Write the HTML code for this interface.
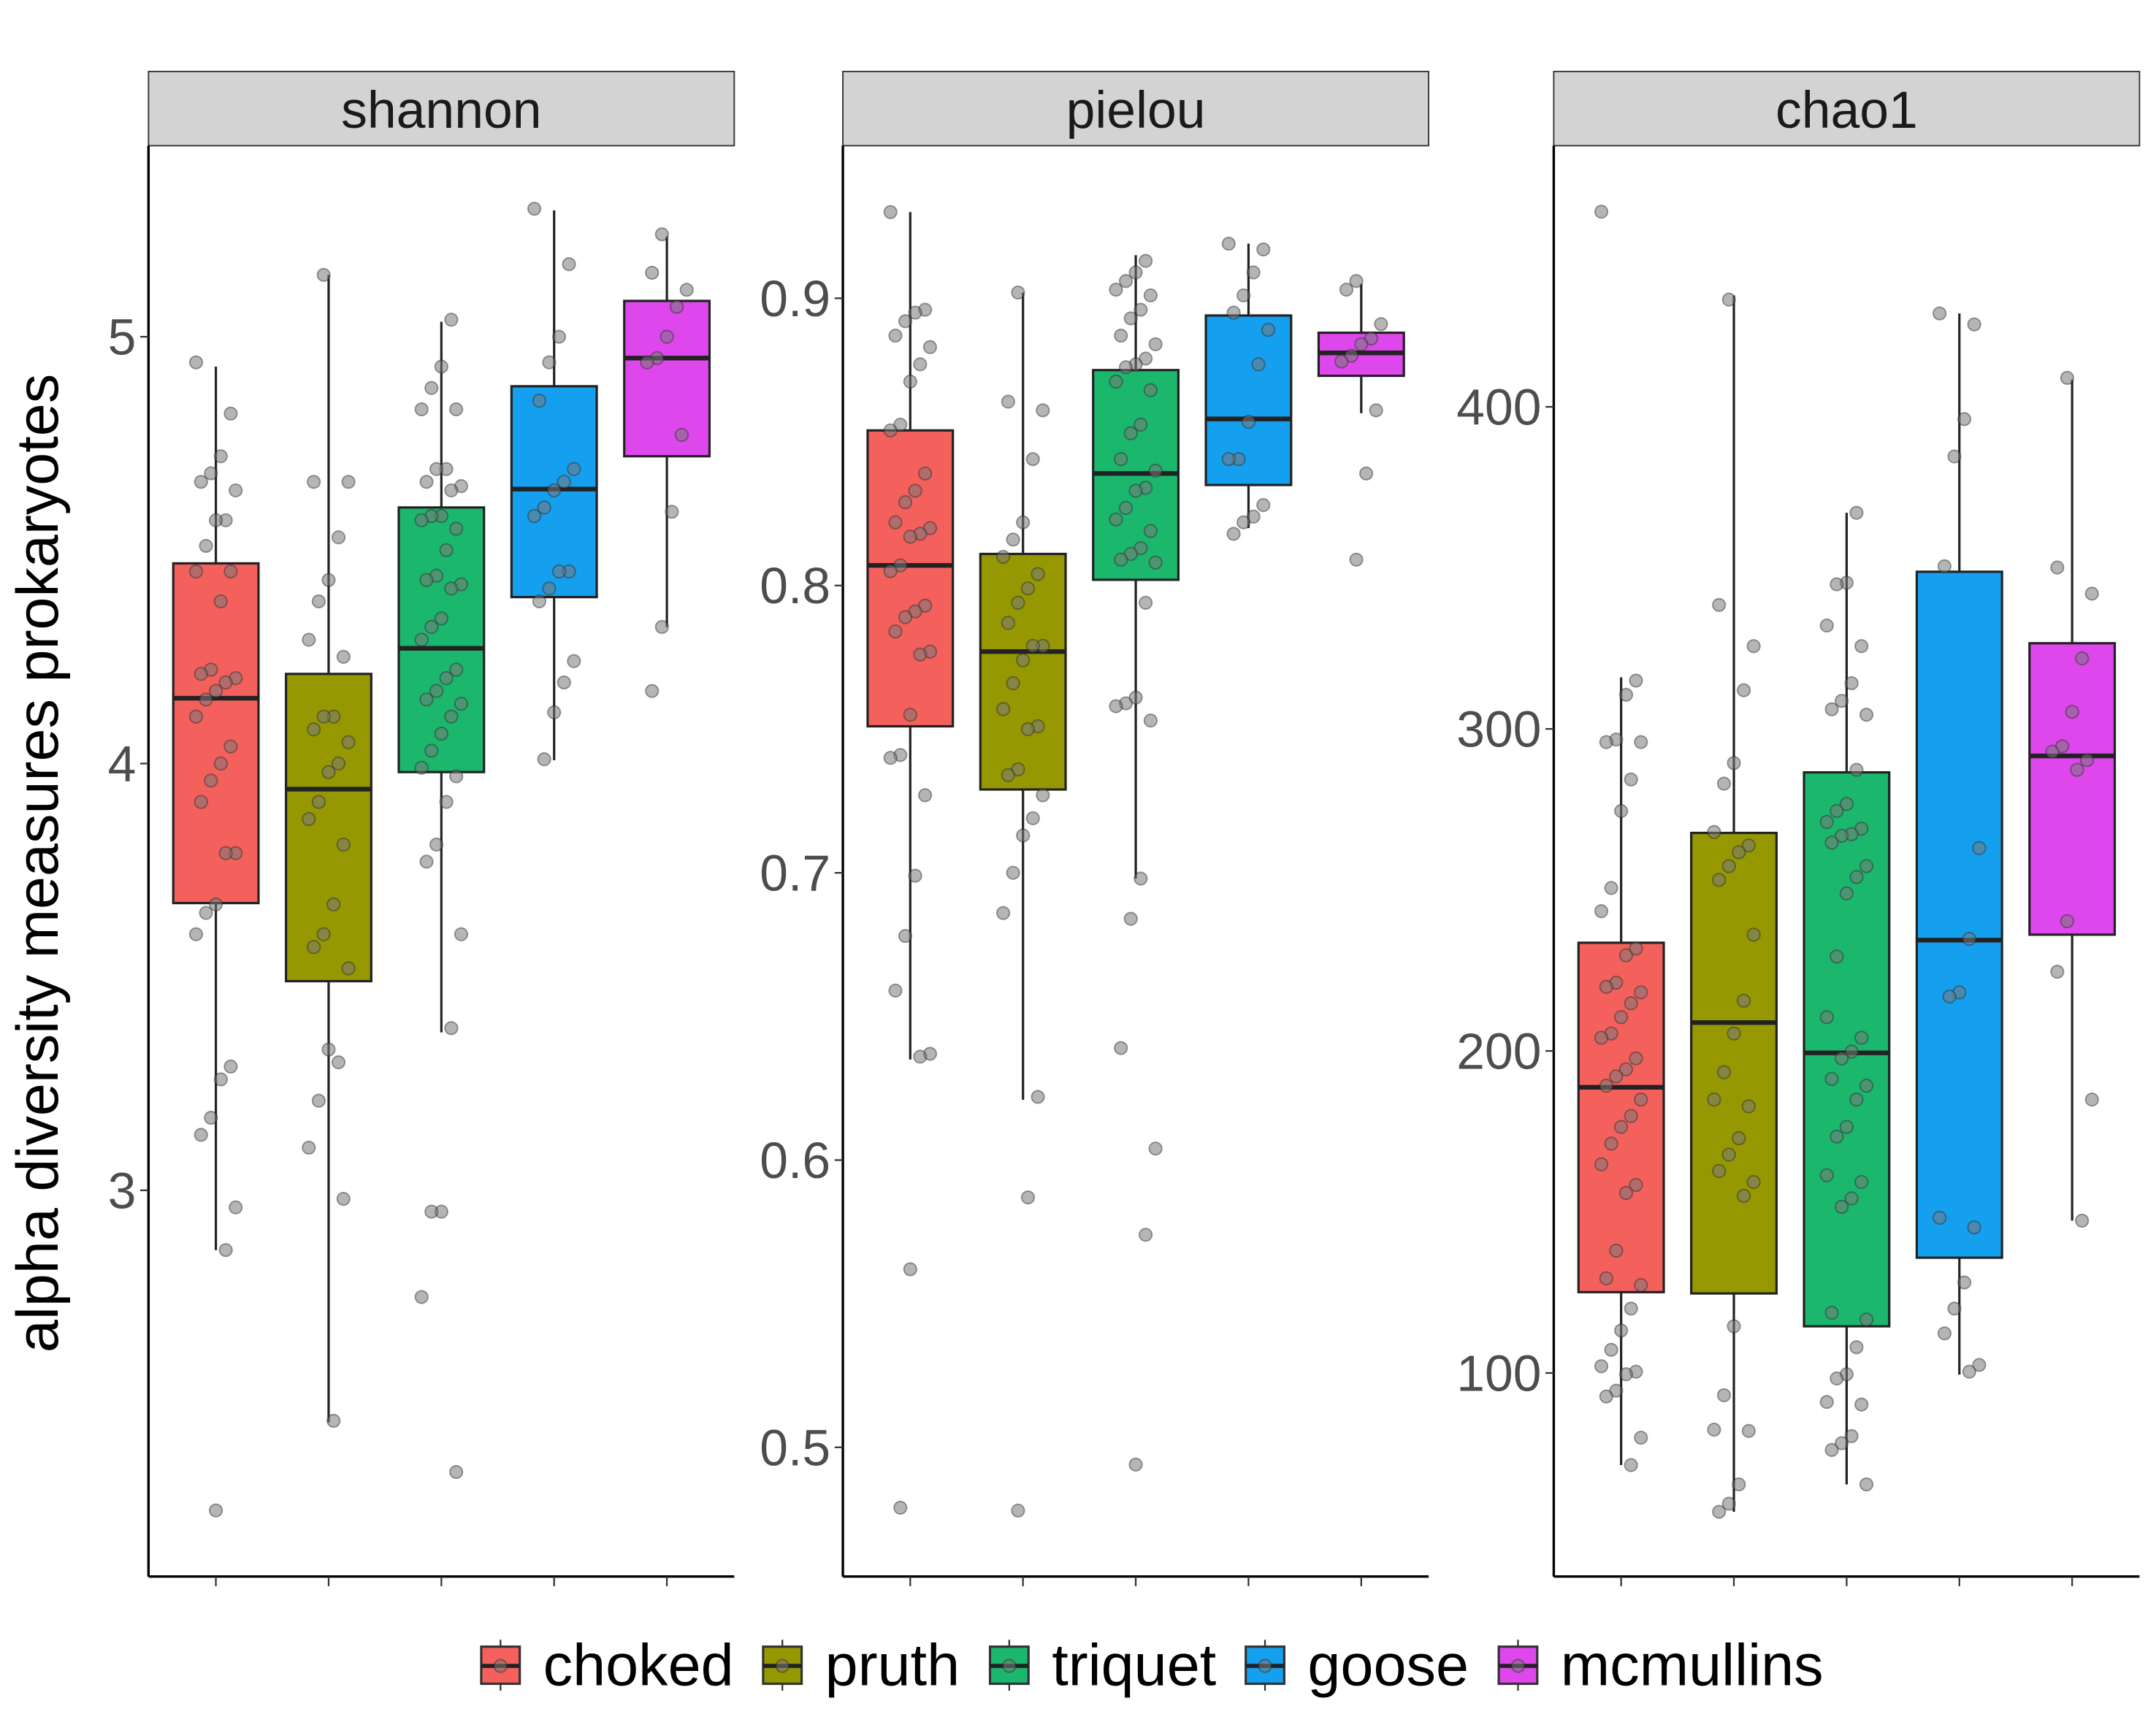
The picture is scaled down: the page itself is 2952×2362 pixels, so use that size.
<!DOCTYPE html>
<html><head><meta charset="utf-8"><style>
html,body{margin:0;padding:0;background:#fff;}
svg{display:block;font-family:"Liberation Sans",sans-serif;}
</style></head><body>
<svg id="chart" xmlns="http://www.w3.org/2000/svg" width="2952" height="2362" viewBox="0 0 1568 1255" preserveAspectRatio="none">
<rect width="1568" height="1255" fill="#fff"/>
<text x="0" y="0" transform="translate(42,628) rotate(-90)" text-anchor="middle" font-size="43" fill="#000">alpha diversity measures prokaryotes</text>
<g id="panels"></g>
<g id="legend"></g>
</svg>
<script>
const groups = ["choked","pruth","triquet","goose","mcmullins"];
const colors = ["#F4605B","#959800","#1AB76D","#149FEF","#DE47EC"];
const panelNames = ["shannon","pielou","chao1"];
const shannonTicks = [3,4,5];
const pielouTicks = [0.5,0.6,0.7,0.8,0.9];
const chaoTicks = [100,200,300,400];
// box stats: [lowerWhisker, q1, median, q3, upperWhisker]
const shannonBoxes = [[2.86,3.673,4.153,4.469,4.93],[2.456,3.49,3.94,4.21,5.145],[3.37,3.98,4.27,4.60,5.035],[4.008,4.39,4.643,4.884,5.296],[4.32,4.72,4.95,5.084,5.235]];
const pielouBoxes = [[0.635,0.751,0.807,0.854,0.930],[0.621,0.729,0.777,0.811,0.902],[0.698,0.802,0.839,0.875,0.915],[0.820,0.835,0.858,0.894,0.919],[0.860,0.873,0.881,0.888,0.905]];
const chaoBoxes = [[71.4,125.1,188.7,233.6,316],[56.9,124.7,208.8,267.7,434.6],[65.4,114.5,199.4,286.5,367.1],[99.5,135.8,234.4,348.8,429],[147.3,236.1,291.6,326.6,408.5]];
const shannonChoked = [4.94,4.82,4.72,4.68,4.66,4.64,4.57,4.57,4.51,4.45,4.45,4.38,4.22,4.21,4.20,4.19,4.17,4.15,4.11,4.04,4.0,3.96,3.91,3.79,3.79,3.67,3.65,3.60,3.29,3.26,3.17,3.13,2.96,2.86,2.25];
const shannonPruth = [5.145,4.66,4.66,4.53,4.43,4.38,4.29,4.25,4.11,4.11,4.08,4.05,4.0,3.98,3.91,3.87,3.81,3.67,3.60,3.57,3.52,3.30,3.33,3.21,3.10,2.98,2.46];
const shannonTriquet = [5.04,4.93,4.88,4.83,4.83,4.69,4.69,4.66,4.65,4.64,4.58,4.58,4.57,4.55,4.50,4.44,4.43,4.42,4.41,4.34,4.32,4.29,4.22,4.20,4.17,4.15,4.14,4.11,4.07,4.03,3.99,3.97,3.91,3.81,3.77,3.60,3.38,2.95,2.95,2.75,2.34];
const shannonGoose = [5.30,5.17,5.0,4.94,4.85,4.69,4.66,4.64,4.60,4.58,4.45,4.45,4.41,4.38,4.24,4.19,4.12,4.01];
const shannonMcmullins = [5.24,5.15,5.11,5.07,5.0,4.95,4.94,4.77,4.59,4.32,4.17];
const pielouChoked = [0.930,0.896,0.895,0.892,0.887,0.883,0.877,0.871,0.856,0.854,0.839,0.833,0.829,0.822,0.820,0.818,0.817,0.807,0.805,0.793,0.791,0.789,0.784,0.777,0.776,0.755,0.741,0.740,0.727,0.699,0.678,0.659,0.637,0.636,0.562,0.479];
const pielouPruth = [0.902,0.864,0.861,0.844,0.822,0.816,0.810,0.804,0.799,0.794,0.787,0.779,0.779,0.774,0.766,0.757,0.751,0.750,0.736,0.734,0.727,0.719,0.713,0.700,0.686,0.622,0.587,0.478];
const pielouTriquet = [0.913,0.909,0.906,0.903,0.901,0.896,0.893,0.887,0.884,0.879,0.877,0.876,0.871,0.868,0.856,0.853,0.844,0.840,0.834,0.833,0.827,0.823,0.819,0.813,0.811,0.809,0.808,0.794,0.761,0.759,0.758,0.753,0.698,0.684,0.639,0.604,0.574,0.494];
const pielouGoose = [0.919,0.917,0.909,0.901,0.895,0.889,0.877,0.857,0.844,0.844,0.828,0.824,0.822,0.818];
const pielouMcmullins = [0.906,0.903,0.891,0.886,0.884,0.880,0.878,0.861,0.839,0.809];
const chaoChoked = [460.6,315,310.6,296.7,295.9,295.9,284.3,274.5,250.6,243.4,231.8,229.7,221.2,219.9,218.2,214.8,210.5,205.4,204.1,197.7,194.3,192.1,189.2,184.9,179.8,176.4,171.2,164.8,158.4,155.9,138,129.4,127.3,120,113.2,107.2,102.1,100.4,99.6,94.5,92.7,79.9,71.4];
const chaoPruth = [433.3,338.5,325.7,312,289.4,283,268,263.8,261.7,257.4,253.1,236.1,215.6,205.4,193.4,184.9,182.8,172.9,167.8,162.7,159.3,155,114.5,93.1,82.4,82,65.4,59.4,56.9];
const chaoTriquet = [367.1,345.4,344.9,332.1,325.7,314.2,308.7,306.1,304.4,287.3,276.7,274.5,271.1,269,267.3,266.8,264.7,257.4,254,248.9,229.3,210.5,204.1,199.8,197.7,191.3,189.2,184.9,176.4,173.4,161.4,159.3,154.2,151.6,118.7,116.6,108,99.6,98.3,91,90.2,80.4,78.2,76.1,65.4];
const chaoGoose = [429,425.6,396.2,384.6,350.5,263,234.8,218.2,216.9,148.2,145.2,128.1,120,112.3,102.5,100.4];
const chaoMcmullins = [409,350.1,342,321.9,305.3,294.6,292.9,290.3,287.3,240.3,224.6,184.9,147.3];

const NS="http://www.w3.org/2000/svg";
function mk(tag, attrs, parent){const e=document.createElementNS(NS,tag);for(const k in attrs)e.setAttribute(k,attrs[k]);parent.appendChild(e);return e;}

const panelsLayout = [
  {left:108,right:534, v0:5, y0:245, pxPer:310.5, ticks:shannonTicks, boxes:shannonBoxes, pts:[shannonChoked,shannonPruth,shannonTriquet,shannonGoose,shannonMcmullins], fmt:v=>String(v)},
  {left:613,right:1039, v0:0.9, y0:217, pxPer:2090, ticks:pielouTicks, boxes:pielouBoxes, pts:[pielouChoked,pielouPruth,pielouTriquet,pielouGoose,pielouMcmullins], fmt:v=>v.toFixed(1)},
  {left:1130,right:1556, v0:400, y0:296, pxPer:2.343, ticks:chaoTicks, boxes:chaoBoxes, pts:[chaoChoked,chaoPruth,chaoTriquet,chaoGoose,chaoMcmullins], fmt:v=>String(v)}
];
const plotTop=106, plotBottom=1147, stripTop=52;
const root=document.getElementById('panels');
panelsLayout.forEach((p,pi)=>{
  const yS=v=>p.y0-(v-p.v0)*p.pxPer;
  const xS=i=>p.left+49+i*82;
  const g=mk('g',{},root);
  
  
  const strip=mk('rect',{x:p.left,y:stripTop,width:p.right-p.left,height:plotTop-stripTop,fill:'#d3d3d3',stroke:'#333','stroke-width':1},g);
  
  
  const st=mk('text',{x:(p.left+p.right)/2,y:93,'text-anchor':'middle','font-size':38,fill:'#1a1a1a'},g);
  st.textContent=panelNames[pi];
  
  
  p.boxes.forEach((b,i)=>{
    const cx=xS(i), w=62;
    const bg=mk('g',{},g);
    
    
    mk('line',{x1:cx,x2:cx,y1:yS(b[4]),y2:yS(b[3]),stroke:'#222','stroke-width':1.7},bg);
    mk('line',{x1:cx,x2:cx,y1:yS(b[1]),y2:yS(b[0]),stroke:'#222','stroke-width':1.7},bg);
    mk('rect',{x:cx-w/2,y:yS(b[3]),width:w,height:yS(b[1])-yS(b[3]),fill:colors[i],stroke:'#222','stroke-width':1.7},bg);
    mk('line',{x1:cx-w/2,x2:cx+w/2,y1:yS(b[2]),y2:yS(b[2]),stroke:'#222','stroke-width':3.4},bg);
  });
  p.pts.forEach((arr,i)=>{
    const cx=xS(i);
    arr.forEach((v,j)=>{
      const dx=(((j*7+i*3)%9)-4)*3.6;
      const c=mk('circle',{cx:cx+dx,cy:yS(v),r:4.6,fill:'rgba(120,120,120,0.55)',stroke:'rgba(40,40,40,0.45)','stroke-width':1},g);
      
      
    });
  });
  const ya=mk('line',{x1:p.left,x2:p.left,y1:plotTop,y2:plotBottom,stroke:'#000','stroke-width':1.8},g);
  
  
  const xa=mk('line',{x1:p.left,x2:p.right,y1:plotBottom,y2:plotBottom,stroke:'#000','stroke-width':1.8},g);
  
  
  groups.forEach((gname,i)=>{
    mk('line',{x1:xS(i),x2:xS(i),y1:plotBottom,y2:plotBottom+7,stroke:'#333','stroke-width':1.2},g);
  });
  p.ticks.forEach(t=>{
    const y=yS(t);
    mk('line',{x1:p.left-6,x2:p.left,y1:y,y2:y,stroke:'#333','stroke-width':1.2},g);
    const tl=mk('text',{x:p.left-9,y:y+13,'text-anchor':'end','font-size':37,fill:'#4d4d4d'},g);
    tl.textContent=p.fmt(t);
    
    
  });
});
const lg=document.getElementById('legend');
const legendX=[350,555,720,906,1090];
groups.forEach((gname,i)=>{
  const x=legendX[i];
  const e=mk('g',{},lg);
  
  
  mk('line',{x1:x+14,x2:x+14,y1:1193,y2:1230,stroke:'#333','stroke-width':1.2},e);
  mk('rect',{x:x,y:1198,width:28,height:27,fill:colors[i],stroke:'#333','stroke-width':1.7},e);
  mk('line',{x1:x,x2:x+28,y1:1212,y2:1212,stroke:'#222','stroke-width':3},e);
  mk('circle',{cx:x+14,cy:1212,r:4.6,fill:'rgba(120,120,120,0.55)',stroke:'rgba(40,40,40,0.45)','stroke-width':1},e);
  const t=mk('text',{x:x+45,y:1226,'font-size':43,fill:'#000'},e);
  t.textContent=gname;
});
</script>
</body></html>
